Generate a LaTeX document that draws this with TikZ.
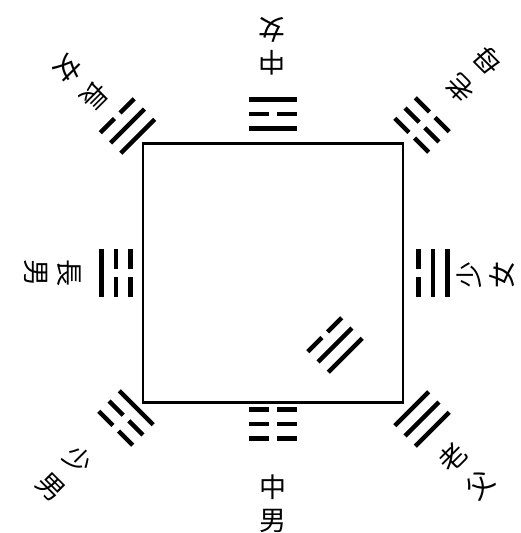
\documentclass[tikz,border=0pt]{standalone}
\usepackage{fontspec}
\newfontfamily\cjk{Noto Sans CJK TC}
\tikzset{
 board/.style={draw,line width=2.6pt,minimum width=260pt,minimum height=259pt,inner sep=0pt},
 yao/.style={line width=4.5pt},
 role/.style={font=\cjk\fontsize{27}{33}\selectfont,align=center,inner sep=0pt},
 roleslant/.style={role,font=\cjk\fontsize{27}{38}\selectfont}
}

\begin{document}
\begin{tikzpicture}[x=1pt,y=1pt]
  \useasboundingbox (0,0) rectangle (520,533);
  \node[board] (square) at (273,260) {};

  % trigrams: x/y/rotation/lines from the outer (bottom) line inwards, 1 = whole
  \foreach \x/\y/\r/\p/\q/\s in {273/419/180/1/0/1, 422/408/135/0/0/0, 433/260/90/1/1/0,
      422/114/45/1/1/1, 273/109/0/0/0/0, 126/115/-45/0/0/1, 116/260/-90/1/0/0,
      127.5/407/-135/0/1/1, 335/188/-135/0/1/1}{
    \begin{scope}[shift={(\x,\y)},rotate=\r]
      \foreach \bit/\h in {\p/-14.5,\q/0,\s/14.5}{
        \ifnum\bit=1 \draw[yao] (-24,\h) -- (24,\h);
        \else \draw[yao] (-24,\h) -- (-4,\h) (4,\h) -- (24,\h); \fi
      }
    \end{scope}
  }

  \node[role,rotate=180] (zhongnv) at (272,486.5) {中\\女};
  \node[roleslant,rotate=135] (laomu) at (474,458.5) {老\\母};
  \node[role,rotate=90] (shaonv) at (486,258) {少\\女};
  \node[roleslant,rotate=45] (laofu) at (466,61.5) {老\\父};
  \node[role] (zhongnan) at (273,29.5) {中\\男};
  \node[roleslant,rotate=-45] (shaonan) at (65,60) {少\\男};
  \node[role,rotate=-90] (zhangnan) at (53,260) {長\\男};
  \node[roleslant,rotate=-135] (zhangnv) at (81,450.5) {長\\女};
\end{tikzpicture}
\end{document}
